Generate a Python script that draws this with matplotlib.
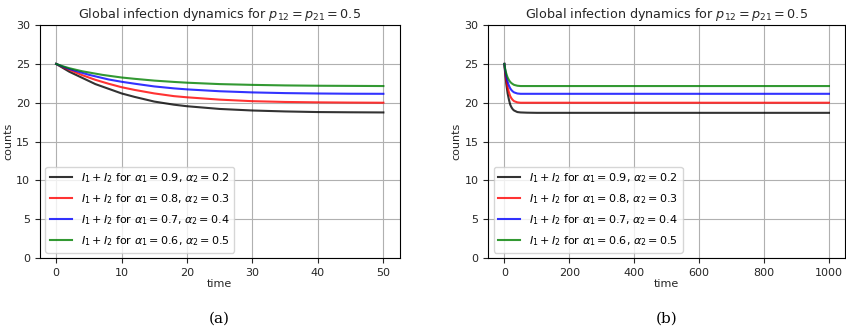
import matplotlib.pyplot as plt

plt.rcParams['mathtext.fontset'] = 'dejavusans'

# values (left panel, t in [0, 50])
t_short = [0, 1, 2, 3, 4, 5, 6, 7, 8, 10, 12, 15, 18, 20, 25, 30, 35, 40, 45, 50]
black_short = [25.0, 24.5, 24.0, 23.6, 23.2, 22.8, 22.4, 22.1, 21.8, 21.2, 20.75, 20.15, 19.75, 19.55, 19.2, 19.0, 18.88, 18.8, 18.77, 18.75]
red_short = [25.0, 24.6, 24.25, 23.9, 23.55, 23.25, 22.95, 22.7, 22.45, 22.0, 21.65, 21.2, 20.85, 20.7, 20.4, 20.2, 20.1, 20.05, 20.02, 20.0]
blue_short = [25.0, 24.65, 24.35, 24.1, 23.85, 23.6, 23.4, 23.2, 23.0, 22.7, 22.45, 22.1, 21.85, 21.72, 21.48, 21.33, 21.24, 21.19, 21.16, 21.15]
green_short = [25.0, 24.7, 24.45, 24.25, 24.05, 23.9, 23.75, 23.6, 23.48, 23.25, 23.08, 22.85, 22.68, 22.58, 22.4, 22.3, 22.23, 22.19, 22.17, 22.15]

# right panel, t in [0, 1000]
t_long = [0, 2, 4, 6, 8, 10, 14, 18, 22, 26, 30, 40, 50, 70, 100, 1000]
black_long = [25.0, 24.0, 23.2, 22.4, 21.8, 21.2, 20.4, 19.75, 19.4, 19.15, 19.0, 18.8, 18.75, 18.72, 18.7, 18.7]
red_long = [25.0, 24.25, 23.55, 22.95, 22.45, 22.0, 21.35, 20.85, 20.55, 20.35, 20.2, 20.05, 20.0, 20.0, 20.0, 20.0]
blue_long = [25.0, 24.35, 23.85, 23.4, 23.0, 22.7, 22.2, 21.85, 21.62, 21.45, 21.33, 21.19, 21.15, 21.15, 21.15, 21.15]
green_long = [25.0, 24.45, 24.05, 23.75, 23.48, 23.25, 22.92, 22.68, 22.52, 22.4, 22.3, 22.19, 22.15, 22.15, 22.15, 22.15]

labels = [r'$I_1 + I_2$ for $\alpha_1 = 0.9$, $\alpha_2 = 0.2$',
          r'$I_1 + I_2$ for $\alpha_1 = 0.8$, $\alpha_2 = 0.3$',
          r'$I_1 + I_2$ for $\alpha_1 = 0.7$, $\alpha_2 = 0.4$',
          r'$I_1 + I_2$ for $\alpha_1 = 0.6$, $\alpha_2 = 0.5$']
colors = ['k', 'r', 'b', 'g']

fig = plt.figure(figsize=(8.46, 3.30), dpi=100)
ax1 = fig.add_axes([0.047, 0.218, 0.4255, 0.706])
ax2 = fig.add_axes([0.577, 0.218, 0.422, 0.706])

panels = [(ax1, t_short, [black_short, red_short, blue_short, green_short], '(a)'),
          (ax2, t_long, [black_long, red_long, blue_long, green_long], '(b)')]

for ax, t, series, cap in panels:
    for y, c, lab in zip(series, colors, labels):
        ax.plot(t, y, color=c, alpha=0.8, lw=1.5, label=lab)
    ax.set_ylim(0, 30)
    ax.grid(True, color='#b0b0b0', lw=0.8)
    ax.set_title(r'Global infection dynamics for $p_{12} = p_{21} = 0.5$', fontsize=9.2, color='#262626', pad=5)
    ax.set_xlabel('time', fontsize=8, color='#262626', labelpad=1)
    ax.set_ylabel('counts', fontsize=8, color='#262626', labelpad=2)
    ax.tick_params(labelsize=8, colors='#262626')
    ax.legend(loc='lower left', fontsize=8, handlelength=2.0, labelspacing=0.65)
    ax.text(0.5, -0.262, cap, transform=ax.transAxes, ha='center', va='center',
            fontsize=11, family='DejaVu Serif')

fig.savefig('out.png', dpi=100)
